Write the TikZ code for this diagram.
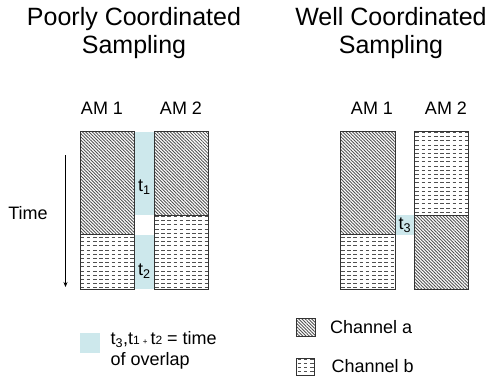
\documentclass[tikz,border=0pt]{standalone}
\usepackage{fontspec}
\setmainfont{Liberation Sans}
\usetikzlibrary{patterns,patterns.meta,arrows.meta}

% horizontal rows of short dashes (channel b)
\pgfdeclarepatternformonly{dashrows}{\pgfpoint{-1pt}{-1pt}}{\pgfpoint{7.2pt}{5.3pt}}{\pgfpoint{6.2pt}{4.2pt}}{%
  \pgfsetlinewidth{0.7pt}%
  \pgfpathmoveto{\pgfpoint{0pt}{2.1pt}}%
  \pgfpathlineto{\pgfpoint{3.6pt}{2.1pt}}%
  \pgfusepath{stroke}}

\definecolor{overlap}{RGB}{205,232,236}
\definecolor{hatchgray}{RGB}{80,80,80}

\tikzset{
  chanA/.style={pattern={Lines[angle=-45,distance=2.3pt,line width=0.85pt]}, pattern color=hatchgray, draw=black!80, line width=0.8pt},
  chanB/.style={pattern=dashrows, pattern color=hatchgray, draw=black!80, line width=0.8pt},
  overlapfill/.style={fill=overlap, draw=none},
  title/.style={font=\fontsize{25}{28}\selectfont, anchor=base},
  lbl/.style={font=\fontsize{18}{21}\selectfont},
  tlbl/.style={font=\fontsize{18}{21}\selectfont, inner sep=0pt},
}

\begin{document}
\begin{tikzpicture}[x=1pt,y=-1pt]
\useasboundingbox (0,0) rectangle (491,378);

% titles
\node[title] (titleL1) at (134,25) {Poorly Coordinated};
\node[title] (titleL2) at (134,53) {Sampling};
\node[title] (titleR1) at (391,25) {Well Coordinated};
\node[title] (titleR2) at (391,53) {Sampling};

% ---------- poorly coordinated ----------
\node[lbl] (amL1) at (102,108) {AM 1};
\node[lbl] (amL2) at (181,108) {AM 2};

% overlap strip between the two columns
\fill[overlapfill] (135,131.5) rectangle (153.5,215);
\fill[overlapfill] (135,234.5) rectangle (153.5,289);

\filldraw[chanA] (80.5,131.5) rectangle (134.5,234.5);
\filldraw[chanB] (80.5,234.5) rectangle (134.5,289);
\filldraw[chanA] (154,131.5) rectangle (208.5,215.5);
\filldraw[chanB] (154,215.5) rectangle (208.5,289);

\node[tlbl] (t1) at (144.5,187) {t\textsubscript{1}};
\node[tlbl] (t2) at (144.5,271) {t\textsubscript{2}};

% time axis
\node[lbl] (time) at (28,213) {Time};
\coordinate (tstart) at (65.5,155);
\coordinate (tend) at (65.5,287);
\draw[line width=0.6pt, -{Stealth[length=5pt,width=4pt]}] (tstart) -- (tend);

% ---------- well coordinated ----------
\node[lbl] (amR1) at (372,108) {AM 1};
\node[lbl] (amR2) at (446,108) {AM 2};

\fill[overlapfill] (395,215) rectangle (414,234.5);

\filldraw[chanA] (340.5,131.5) rectangle (395,234.5);
\filldraw[chanB] (340.5,234.5) rectangle (395,289);
\filldraw[chanB] (414,131.5) rectangle (468.5,215);
\filldraw[chanA] (414,215) rectangle (468.5,289);

\node[tlbl] (t3) at (405,225) {t\textsubscript{3}};

% ---------- legends ----------
\fill[overlapfill] (80,332.5) rectangle (100,352.5);
\node[lbl, anchor=north west, align=left, inner sep=0pt] (overlapText) at (110.5,331)
  {t\textsubscript{3},t{\fontsize{12}{12}\selectfont 1}\,{\fontsize{8}{8}\selectfont +}\,t{\fontsize{12}{12}\selectfont 2} = time\\of overlap};

\filldraw[chanA] (296.5,318.5) rectangle (315.5,336.5);
\node[lbl, anchor=west, inner sep=0pt] (chanAText) at (330,327) {Channel a};

\filldraw[chanB] (296.5,358) rectangle (314.5,375);
\node[lbl, anchor=west, inner sep=0pt] (chanBText) at (331.5,366) {Channel b};
\end{tikzpicture}
\end{document}
